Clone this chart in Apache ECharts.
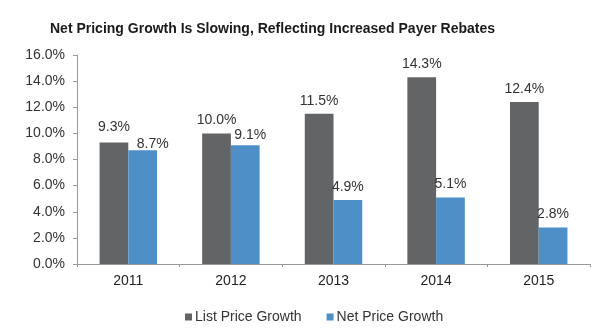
<!DOCTYPE html>
<html><head><meta charset="utf-8">
<script src="https://cdn.jsdelivr.net/npm/echarts@6/dist/echarts.min.js"></script>
<style>html,body{margin:0;padding:0;background:#fff}#c{width:612px;height:333px}</style>
</head><body><div id="c"></div>
<script>
const categories = ['2011','2012','2013','2014','2015'];
const listPrice = [9.3, 10.0, 11.5, 14.3, 12.4];
const netPrice = [8.7, 9.1, 4.9, 5.1, 2.8];
const seriesNames = ['List Price Growth', 'Net Price Growth'];
const chart = echarts.init(document.getElementById('c'));
const font = 'Liberation Sans, Arial, sans-serif';
const lbl = {show:true, position:'top', formatter: p => p.value.toFixed(1)+'%', color:'#333', fontSize:14, fontFamily:font, distance:6};
// small nudges of crowded labels, as in the reference
function nudge(p) {
  if (p.seriesIndex === 1 && p.dataIndex === 0) return {dx: 10, dy: 7};
  if (p.seriesIndex === 1 && p.dataIndex === 1) return {dx: 5, dy: 3};
  if (p.seriesIndex === 0 && p.dataIndex === 0) return {dy: -2};
  return {};
}
chart.setOption({
  animation:false,
  title:{text:'Net Pricing Growth Is Slowing, Reflecting Increased Payer Rebates', left:45, top:17,
    textStyle:{fontSize:14, fontWeight:'bold', color:'#1a1a1a', fontFamily:font}},
  legend:{top:305, left:180, itemWidth:7, itemHeight:7, itemGap:25, icon:'rect',
    textStyle:{fontSize:14, color:'#333', fontFamily:font, padding:[0,0,0,-2]}},
  grid:{left:77, right:22, top:55, bottom:69},
  xAxis:{type:'category', data:categories,
    axisLine:{lineStyle:{color:'#999'}}, axisTick:{show:true, length:3, lineStyle:{color:'#999'}},
    axisLabel:{color:'#222', fontSize:14, fontFamily:font, margin:10}},
  yAxis:{type:'value', min:0, max:16, interval:2,
    axisLine:{show:true, lineStyle:{color:'#999'}}, axisTick:{show:true, length:4, lineStyle:{color:'#999'}},
    splitLine:{show:false},
    axisLabel:{formatter: v => v.toFixed(1)+'%', color:'#333', fontSize:14, fontFamily:font, margin:12}},
  series:[
    {name:seriesNames[0], type:'bar', data:listPrice, itemStyle:{color:'#636466'}, barGap:'0%', barCategoryGap:'44%', label:lbl, labelLayout:nudge},
    {name:seriesNames[1], type:'bar', data:netPrice, itemStyle:{color:'#4f8fc8'}, label:lbl, labelLayout:nudge}
  ]
});
</script></body></html>
